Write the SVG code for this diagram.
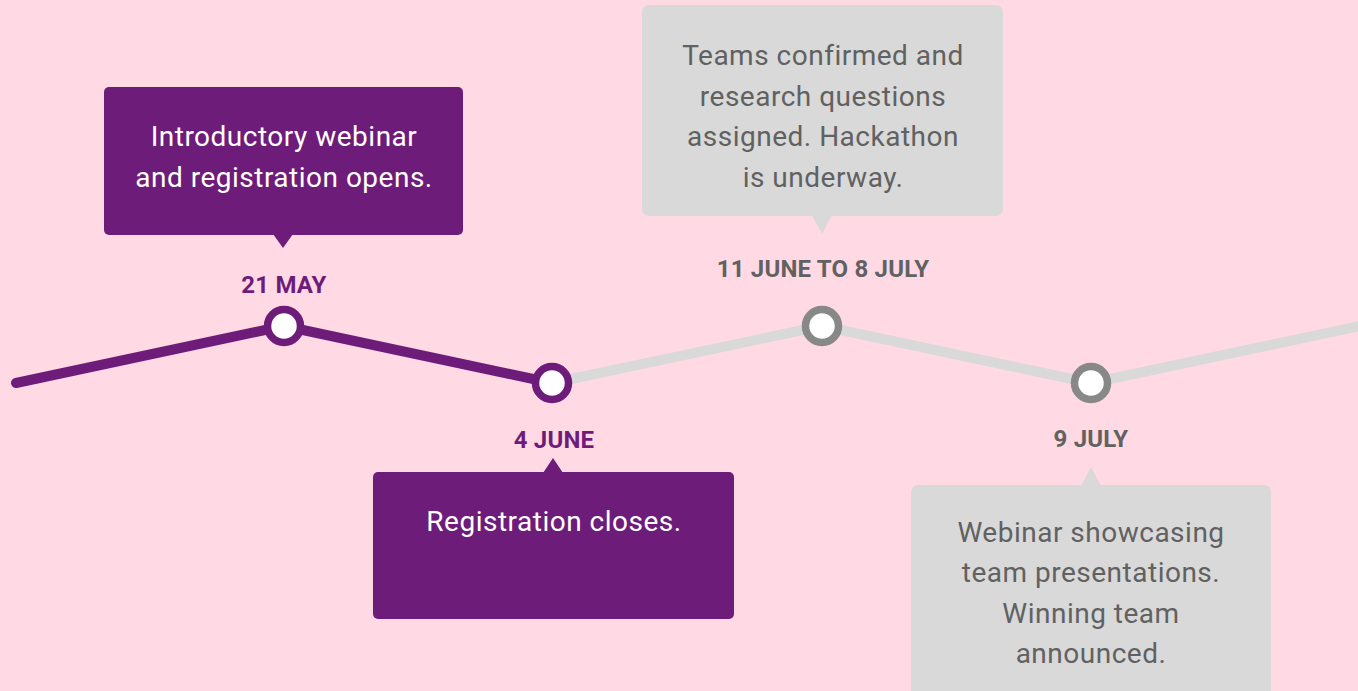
<svg xmlns="http://www.w3.org/2000/svg" width="1358" height="691" viewBox="0 0 1358 691">
<style>
.bg{fill:#ffd9e4}
.pbox{fill:#6e1c7a}
.gbox{fill:#d9d9d9}
.txt{font-family:Roboto,"Liberation Sans",sans-serif;font-size:28px;text-anchor:middle;letter-spacing:0.5px}
.wt{fill:#ffffff}
.gt{fill:#616161}
.date{font-family:Roboto,"Liberation Sans",sans-serif;font-size:24px;font-weight:700;text-anchor:middle;letter-spacing:0.2px}
.pd{fill:#6e1c7a}
.gd{fill:#616161}
.pline{fill:none;stroke:#6e1c7a;stroke-width:10;stroke-linecap:round;stroke-linejoin:round}
.gline{fill:none;stroke:#d9d9d9;stroke-width:10;stroke-linecap:round;stroke-linejoin:round}
.pdot{fill:#ffffff;stroke:#6e1c7a;stroke-width:7.5}
.gdot{fill:#ffffff;stroke:#888888;stroke-width:7.5}
</style>
<rect class="bg" x="0" y="0" width="1358" height="691"/>
<g id="connectors">
<polyline class="gline" points="552,383 822,326 1091,383 1365,325"/>
<polyline class="pline" points="16,383 284,326 552,383"/>
</g>
<g id="node-21may">
<rect class="pbox" x="104" y="87" width="359" height="148" rx="5"/>
<polygon class="pbox" points="273,234 293,234 283,248"/>
<text class="txt wt" x="284" y="146">Introductory webinar</text>
<text class="txt wt" x="284" y="187">and registration opens.</text>
<text class="date pd" x="284" y="293">21 MAY</text>
<circle class="pdot" cx="284" cy="326" r="16.5"/>
</g>
<g id="node-4june">
<rect class="pbox" x="373" y="472" width="361" height="147" rx="5"/>
<polygon class="pbox" points="543,473 563,473 553,458"/>
<text class="txt wt" x="554" y="531">Registration closes.</text>
<text class="date pd" x="554" y="448">4 JUNE</text>
<circle class="pdot" cx="552" cy="383" r="16.5"/>
</g>
<g id="node-11june">
<rect class="gbox" x="642" y="5" width="361" height="211" rx="7"/>
<polygon class="gbox" points="812,215 832,215 822,234"/>
<text class="txt gt" x="823" y="65">Teams confirmed and</text>
<text class="txt gt" x="823" y="106">research questions</text>
<text class="txt gt" x="823" y="146">assigned. Hackathon</text>
<text class="txt gt" x="823" y="187">is underway.</text>
<text class="date gd" x="823" y="277">11 JUNE TO 8 JULY</text>
<circle class="gdot" cx="822" cy="326" r="16.5"/>
</g>
<g id="node-9july">
<rect class="gbox" x="911" y="485" width="360" height="215" rx="7"/>
<polygon class="gbox" points="1081,486 1101,486 1091,467"/>
<text class="txt gt" x="1091" y="542">Webinar showcasing</text>
<text class="txt gt" x="1091" y="582">team presentations.</text>
<text class="txt gt" x="1091" y="623">Winning team</text>
<text class="txt gt" x="1091" y="663">announced.</text>
<text class="date gd" x="1091" y="447">9 JULY</text>
<circle class="gdot" cx="1091" cy="383" r="16.5"/>
</g>
</svg>
